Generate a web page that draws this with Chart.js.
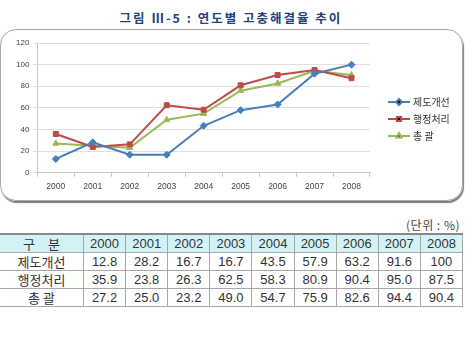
<!DOCTYPE html>
<html>
<head>
<meta charset="utf-8">
<script src="https://cdn.jsdelivr.net/npm/chart.js@4.4.1/dist/chart.umd.min.js"></script>
<style>
  html, body { margin: 0; padding: 0; background: #fff; }
  body { width: 473px; height: 341px; position: relative; overflow: hidden;
    font-family: "Liberation Sans", "Noto Sans CJK KR", sans-serif; }
  #title { position: absolute; left: 0; width: 462px; top: 8px; text-align: center;
    font: bold 12.5px "Noto Sans CJK KR", sans-serif; color: #23407a; letter-spacing: 2px; }
  #frame { position: absolute; left: 0; top: 29px; width: 461px; height: 170px;
    border: 1.5px solid #a8a8a8; border-radius: 16px; box-shadow: 1px 2px 1px #7a7a7a; }
  #chart-box { position: absolute; left: 0; top: 30px; width: 463px; height: 172px; }
  #unit { position: absolute; right: 13px; top: 216px; font: 12px "Noto Sans CJK KR", sans-serif; color: #444; letter-spacing: 0.5px; }
  table { position: absolute; left: 0; top: 233px; width: 463px; border-collapse: collapse;
    font-size: 13px; color: #333; }
  th, td { border: 1px solid #a8a8a8; text-align: center; padding: 0; height: 17px; font-weight: normal; }
  thead th { background: #d3f2f6; border-top: 2px solid #888; }
  td:first-child, th:first-child { font-family: "Noto Sans CJK KR", sans-serif; width: 83px; }
  tr:first-child th, tbody td { line-height: 17px; }
  tbody tr td:first-child { border-left: none; }
  thead th:first-child { border-left: none; }
</style>
</head>
<body>
<div id="title">그림 Ⅲ-5 : 연도별 고충해결율 추이</div>
<div id="frame"></div>
<div id="chart-box"><canvas id="trend-chart"></canvas></div>
<div id="unit">(단위 : %)</div>
<table id="data-table"></table>
<script>
const years = ['2000', '2001', '2002', '2003', '2004', '2005', '2006', '2007', '2008'];
const seriesNames = ['제도개선', '행정처리', '총 괄'];
const systemValues = [12.8, 28.2, 16.7, 16.7, 43.5, 57.9, 63.2, 91.6, 100];
const adminValues = [35.9, 23.8, 26.3, 62.5, 58.3, 80.9, 90.4, 95.0, 87.5];
const totalValues = [27.2, 25.0, 23.2, 49.0, 54.7, 75.9, 82.6, 94.4, 90.4];
const yTicks = [0, 20, 40, 60, 80, 100, 120];

const seriesColors = ['#4a7ebb', '#be4b48', '#98b954'];
const seriesMarkers = ['rectRot', 'rect', 'triangle'];
const seriesValues = [systemValues, adminValues, totalValues];

// table under the chart
function renderTable() {
  const table = document.getElementById('data-table');
  const head = document.createElement('thead');
  const headRow = document.createElement('tr');
  const corner = document.createElement('th');
  corner.textContent = '구　분';
  headRow.append(corner);
  years.forEach((year) => {
    const th = document.createElement('th');
    th.textContent = year;
    headRow.append(th);
  });
  head.append(headRow);
  table.append(head);

  const body = document.createElement('tbody');
  seriesNames.forEach((name, index) => {
    const row = document.createElement('tr');
    const label = document.createElement('td');
    label.textContent = name;
    row.append(label);
    seriesValues[index].forEach((value) => {
      const td = document.createElement('td');
      td.textContent = value === 100 ? '100' : value.toFixed(1);
      row.append(td);
    });
    body.append(row);
  });
  table.append(body);
}

// legend drawn as line + marker, like the spreadsheet original
const sideLegend = {
  id: 'sideLegend',
  afterDraw(chart) {
    const ctx = chart.ctx;
    const left = chart.chartArea.right + 18;
    const top = 72;
    chart.data.datasets.forEach((dataset, index) => {
      const y = top + index * 17;
      ctx.save();
      ctx.strokeStyle = dataset.borderColor;
      ctx.lineWidth = 2;
      ctx.beginPath();
      ctx.moveTo(left, y);
      ctx.lineTo(left + 22, y);
      ctx.stroke();
      Chart.helpers.drawPoint(ctx, {
        pointStyle: dataset.pointStyle,
        radius: 3,
        borderWidth: 1,
      }, left + 11, y);
      ctx.fillStyle = '#333';
      ctx.font = '10px "Noto Sans CJK KR", sans-serif';
      ctx.textBaseline = 'middle';
      ctx.fillText(dataset.label, left + 25, y);
      ctx.restore();
    });
  },
};

function renderChart() {
  const canvas = document.getElementById('trend-chart');
  new Chart(canvas, {
    type: 'line',
    data: {
      labels: years,
      datasets: seriesNames.map((name, index) => ({
        label: name,
        data: seriesValues[index],
        borderColor: seriesColors[index],
        backgroundColor: seriesColors[index],
        pointStyle: seriesMarkers[index],
        pointRadius: 3.5,
        pointBorderWidth: 1,
        borderWidth: 2,
        tension: 0,
      })),
    },
    options: {
      responsive: true,
      maintainAspectRatio: false,
      animation: false,
      layout: { padding: { left: 12, right: 93, top: 13, bottom: 5 } },
      plugins: { legend: { display: false }, tooltip: { enabled: false } },
      scales: {
        x: {
          offset: true,
          grid: { display: true, drawOnChartArea: false, offset: true, tickLength: 4, color: '#c8c8c8' },
          border: { color: '#c8c8c8' },
          ticks: { color: '#444', font: { size: 8.5, family: 'Liberation Sans' }, padding: 5, maxRotation: 0 },
        },
        y: {
          min: 0,
          max: 120,
          afterBuildTicks: (axis) => { axis.ticks = yTicks.map((value) => ({ value })); },
          grid: { color: '#e0e0e0', tickLength: 4 },
          border: { color: '#c8c8c8' },
          ticks: { color: '#444', font: { size: 8, family: 'Liberation Sans' }, padding: 4 },
        },
      },
    },
    plugins: [sideLegend],
  });
}

renderTable();
renderChart();
</script>
</body>
</html>
